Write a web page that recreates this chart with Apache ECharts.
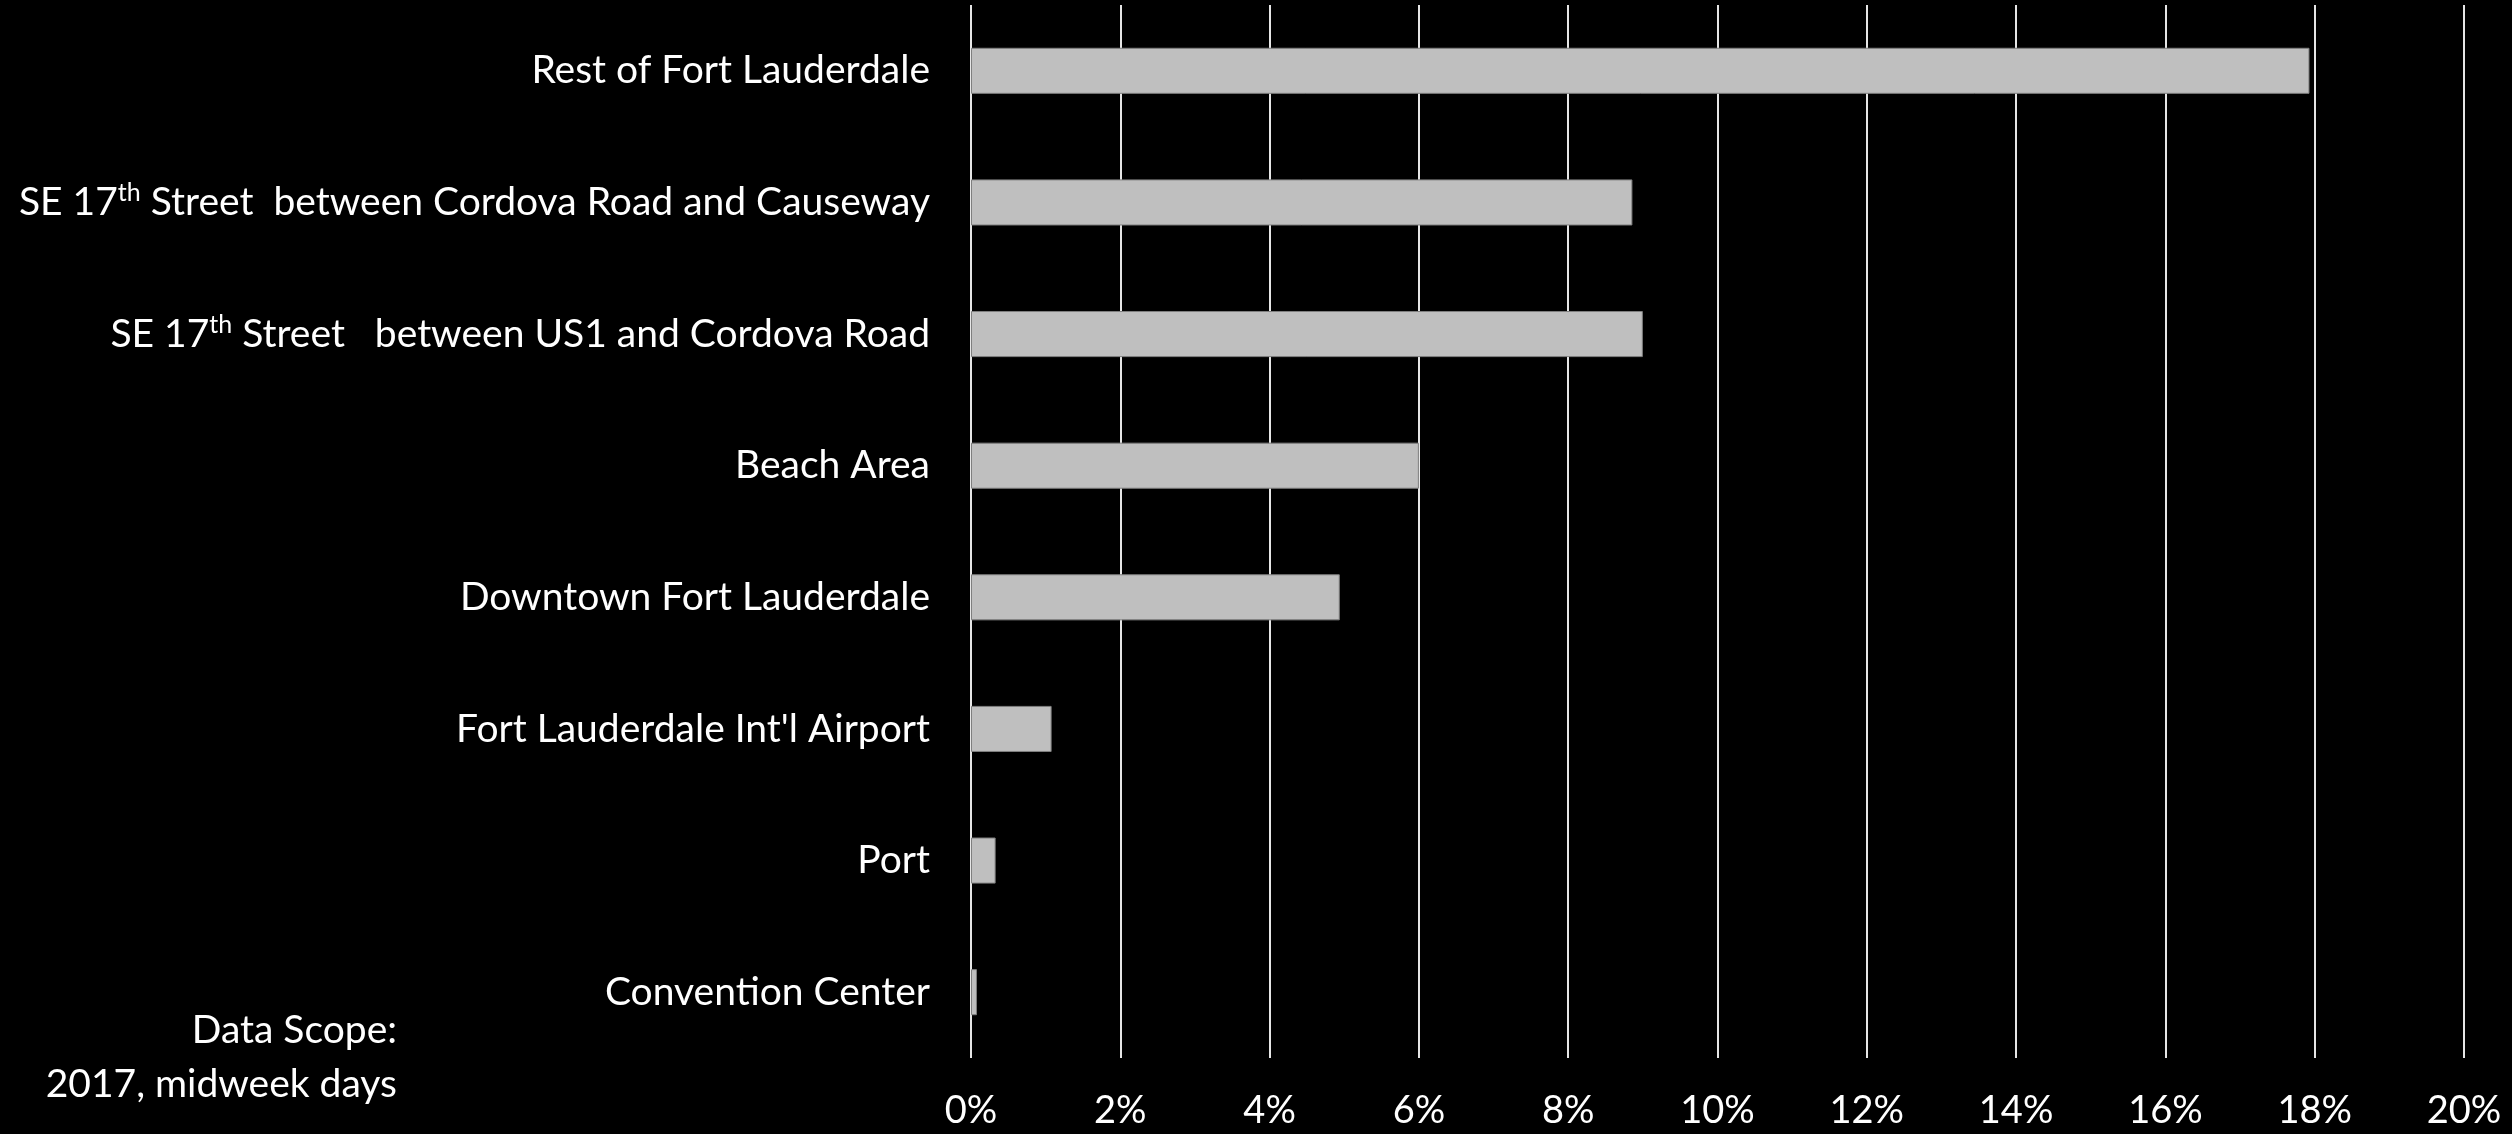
<!DOCTYPE html>
<html>
<head>
<meta charset="utf-8">
<script src="https://cdn.jsdelivr.net/npm/echarts@6/dist/echarts.min.js"></script>
<style>
html,body{margin:0;padding:0;background:#000;}
#c{width:2512px;height:1134px;}
</style>
</head>
<body>
<div id="c"></div>
<script>
const categories = [
  'Rest of Fort Lauderdale',
  'SE 17th Street  between Cordova Road and Causeway',
  'SE 17th Street   between US1 and Cordova Road',
  'Beach Area',
  'Downtown Fort Lauderdale',
  "Fort Lauderdale Int'l Airport",
  'Port',
  'Convention Center'
];
const shares = [17.93, 8.86, 9.0, 6.0, 4.94, 1.08, 0.33, 0.08];
const xTicks = [0, 2, 4, 6, 8, 10, 12, 14, 16, 18, 20];
const noteLines = ['Data Scope:', '2017, midweek days'];

const FONT = 'Lato';
const chart = echarts.init(document.getElementById('c'), null, {renderer: 'canvas'});
chart.setOption({
  backgroundColor: '#000000',
  animation: false,
  grid: {left: 971, right: 48, top: 5, bottom: 76, containLabel: false},
  xAxis: {
    type: 'value',
    min: xTicks[0],
    max: xTicks[xTicks.length - 1],
    interval: 2,
    axisLine: {show: false},
    axisTick: {show: false},
    splitLine: {show: true, lineStyle: {color: '#e6e6e6', width: 2}},
    axisLabel: {
      color: '#ffffff', fontFamily: FONT, fontSize: 38, margin: 34,
      formatter: v => v + '%'
    }
  },
  yAxis: {
    type: 'category',
    data: categories,
    inverse: true,
    axisLine: {show: false},
    axisTick: {show: false},
    splitLine: {show: false},
    axisLabel: {
      color: '#ffffff', fontFamily: FONT, fontSize: 39, margin: 41,
      formatter: v => v.replace('17th', '17{s|th}'),
      rich: {
        s: {color: '#ffffff', fontFamily: FONT, fontSize: 25, padding: [0, 0, 19, 0]}
      }
    }
  },
  series: [{
    type: 'bar',
    data: shares,
    barCategoryGap: '65%',
    itemStyle: {color: '#bfbfbf', borderColor: '#7f7f7f', borderWidth: 1},
    silent: true
  }],
  graphic: [
    {type: 'text', right: 2512 - 397, top: 1011, style: {text: noteLines[0], fill: '#ffffff', font: '39px ' + FONT, textAlign: 'right'}},
    {type: 'text', right: 2512 - 397, top: 1065, style: {text: noteLines[1], fill: '#ffffff', font: '39px ' + FONT, textAlign: 'right'}}
  ]
});
</script>
</body>
</html>
